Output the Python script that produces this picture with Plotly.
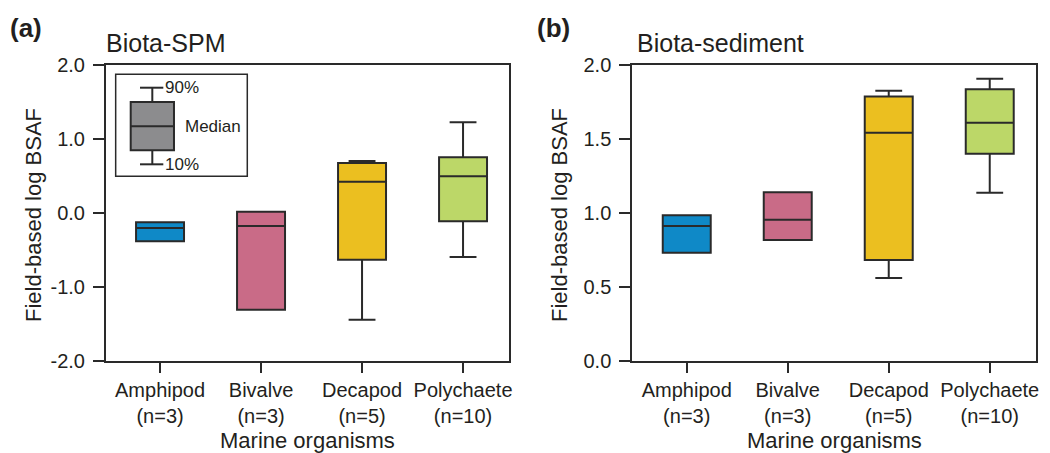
import plotly.graph_objects as go

categories = ["Amphipod<br>(n=3)", "Bivalve<br>(n=3)", "Decapod<br>(n=5)", "Polychaete<br>(n=10)"]
box_colors = ["#0f89c7", "#c96b87", "#ebbf20", "#bcd768"]

# Panel (a) Biota-SPM
spm_low = [-0.382, -1.306, -1.441, -0.595]
spm_q1 = [-0.382, -1.306, -0.631, -0.113]
spm_median = [-0.203, -0.176, 0.423, 0.495]
spm_q3 = [-0.126, 0.018, 0.676, 0.752]
spm_high = [-0.126, 0.018, 0.703, 1.225]

# Panel (b) Biota-sediment
sed_low = [0.732, 0.818, 0.561, 1.137]
sed_q1 = [0.732, 0.818, 0.682, 1.401]
sed_median = [0.912, 0.955, 1.543, 1.610]
sed_q3 = [0.984, 1.140, 1.788, 1.836]
sed_high = [0.984, 1.140, 1.826, 1.907]

spm_ticks = [2.0, 1.0, 0.0, -1.0, -2.0]
spm_ticktext = ["2.0", "1.0", "0.0", "-1.0", "-2.0"]
sed_ticks = [0.0, 0.5, 1.0, 1.5, 2.0]
sed_ticktext = ["0.0", "0.5", "1.0", "1.5", "2.0"]

FONT = "Liberation Sans, Arial, sans-serif"
TXT = "#231f20"
LINE = "#2a2a2a"
LW = 2

fig = go.Figure()

def add_boxes(low, q1, med, q3, high, xa, ya):
    for i, cat in enumerate(categories):
        fig.add_trace(go.Box(
            x=[cat], q1=[q1[i]], median=[med[i]], q3=[q3[i]],
            lowerfence=[low[i]], upperfence=[high[i]],
            fillcolor=box_colors[i], line=dict(color=LINE, width=LW),
            width=0.475, whiskerwidth=0.56, boxpoints=False,
            xaxis=xa, yaxis=ya, showlegend=False, hoverinfo="skip"))

add_boxes(spm_low, spm_q1, spm_median, spm_q3, spm_high, "x", "y")
add_boxes(sed_low, sed_q1, sed_median, sed_q3, sed_high, "x2", "y2")

ydom = [1 - 361 / 453, 1 - 65 / 453]
xdom_a = [106 / 1050, 509 / 1050]
xdom_b = [632.3 / 1050, 1036 / 1050]

common_x = dict(
    type="category", categoryorder="array", categoryarray=categories,
    showline=True, mirror=True, linecolor=LINE, linewidth=LW,
    ticks="outside", ticklen=10, tickwidth=LW, tickcolor=LINE,
    showgrid=False, zeroline=False, automargin=False,
    tickfont=dict(family=FONT, size=20, color=TXT),
)
common_y = dict(
    showline=True, mirror=True, linecolor=LINE, linewidth=LW,
    ticks="outside", ticklen=11, tickwidth=LW, tickcolor=LINE,
    showgrid=False, zeroline=False, ticklabelstandoff=4, automargin=False,
    tickfont=dict(family=FONT, size=20, color=TXT),
)

fig.update_layout(
    template="none",
    width=1050, height=453, autosize=False,
    margin=dict(l=0, r=0, t=0, b=0, pad=0),
    paper_bgcolor="white", plot_bgcolor="white",
    boxmode="overlay",
    font=dict(family=FONT, color=TXT),
    xaxis=dict(domain=xdom_a, range=[-0.535, 3.455], anchor="y", **common_x),
    yaxis=dict(domain=ydom, range=[-2.0, 2.0], anchor="x",
               tickvals=spm_ticks, ticktext=spm_ticktext, **common_y),
    xaxis2=dict(domain=xdom_b, range=[-0.539, 3.458], anchor="y2", **common_x),
    yaxis2=dict(domain=ydom, range=[0.0, 2.0], anchor="x2",
                tickvals=sed_ticks, ticktext=sed_ticktext, **common_y),
)

annotations = [
    dict(text="<b>(a)</b>", x=8 / 1050, y=1 - 28 / 453, xanchor="left", yanchor="middle",
         font=dict(size=26)),
    dict(text="Biota-SPM", x=104 / 1050, y=1 - 43 / 453, xanchor="left", yanchor="middle",
         font=dict(size=25)),
    dict(text="<b>(b)</b>", x=535 / 1050, y=1 - 28 / 453, xanchor="left", yanchor="middle",
         font=dict(size=26)),
    dict(text="Biota-sediment", x=635 / 1050, y=1 - 43 / 453, xanchor="left", yanchor="middle",
         font=dict(size=25)),
    dict(text="Field-based log BSAF", x=33 / 1050, y=1 - 215 / 453, textangle=-90,
         xanchor="center", yanchor="middle", font=dict(size=22)),
    dict(text="Field-based log BSAF", x=559 / 1050, y=1 - 215 / 453, textangle=-90,
         xanchor="center", yanchor="middle", font=dict(size=22)),
    dict(text="Marine organisms", x=307 / 1050, y=1 - 440 / 453,
         xanchor="center", yanchor="middle", font=dict(size=22)),
    dict(text="Marine organisms", x=834 / 1050, y=1 - 440 / 453,
         xanchor="center", yanchor="middle", font=dict(size=22)),
    # inset key labels
    dict(text="90%", x=0.142, y=0.9233, xref="x domain", yref="y domain",
         xanchor="left", yanchor="middle", font=dict(size=17)),
    dict(text="Median", x=0.190, y=0.7929, xref="x domain", yref="y domain",
         xanchor="left", yanchor="middle", font=dict(size=17)),
    dict(text="10%", x=0.142, y=0.6645, xref="x domain", yref="y domain",
         xanchor="left", yanchor="middle", font=dict(size=17)),
]
for a in annotations:
    a.setdefault("xref", "paper")
    a.setdefault("yref", "paper")
    a["showarrow"] = False
    a["font"]["family"] = FONT
    a["font"]["color"] = TXT
    fig.add_annotation(**a)

# inset key (decoration) in panel (a) domain coordinates
kd = dict(xref="x domain", yref="y domain")
shapes = [
    dict(type="rect", x0=0.024, x1=0.3506, y0=0.624, y1=0.9686,
         line=dict(color=LINE, width=1.5), fillcolor="white", **kd),
    dict(type="line", x0=0.1149, x1=0.1149, y0=0.875, y1=0.9233, line=dict(color=LINE, width=LW), **kd),
    dict(type="line", x0=0.1149, x1=0.1149, y0=0.6645, y1=0.7118, line=dict(color=LINE, width=LW), **kd),
    dict(type="line", x0=0.0844, x1=0.1422, y0=0.9233, y1=0.9233, line=dict(color=LINE, width=LW), **kd),
    dict(type="line", x0=0.0844, x1=0.1422, y0=0.6645, y1=0.6645, line=dict(color=LINE, width=LW), **kd),
    dict(type="rect", x0=0.0613, x1=0.1687, y0=0.7118, y1=0.875,
         line=dict(color=LINE, width=LW), fillcolor="#8c8c8e", **kd),
    dict(type="line", x0=0.0613, x1=0.1687, y0=0.7929, y1=0.7929, line=dict(color=LINE, width=LW), **kd),
]
for s in shapes:
    fig.add_shape(**s)

fig.write_html("out.html", config={"displayModeBar": False},
               post_script="document.body.style.margin='0';document.body.style.overflow='hidden';")
